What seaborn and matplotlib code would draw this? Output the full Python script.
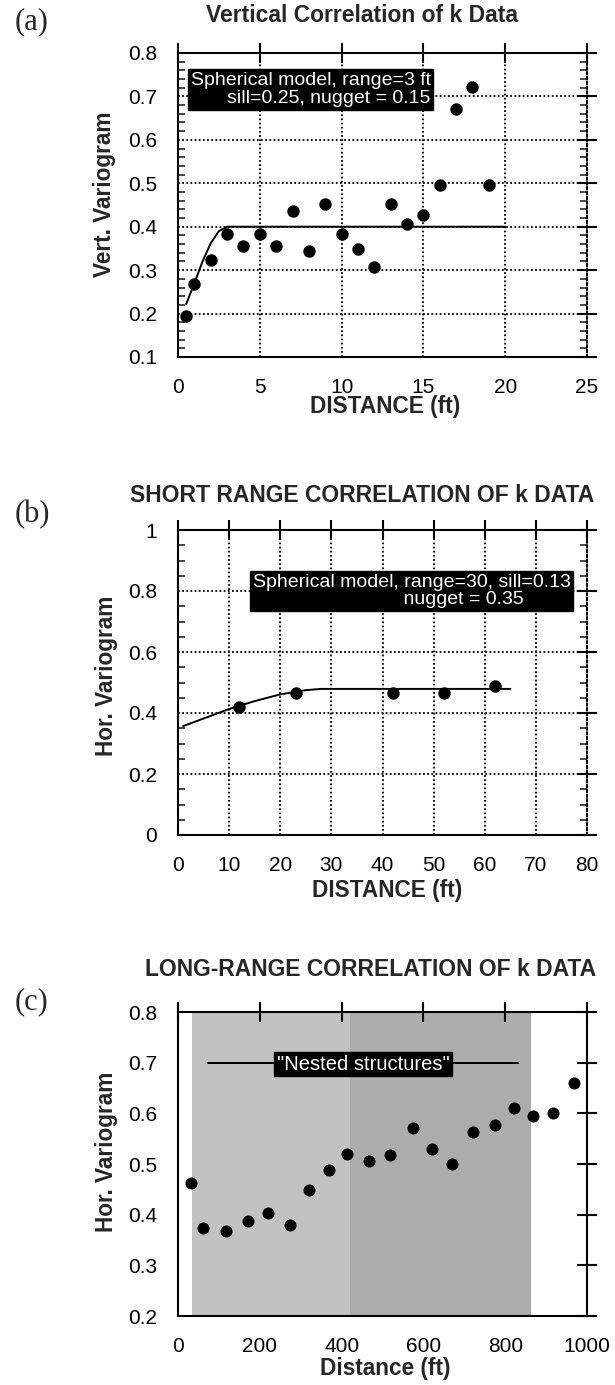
import matplotlib
matplotlib.use("Agg")
import matplotlib.pyplot as plt
import matplotlib.ticker as mticker
import seaborn as sns
import pandas as pd

# ---------------- data ----------------
# (a) vertical variogram
a_dist = [0.5, 1, 2, 3, 4, 5, 6, 7, 8, 9, 10, 11, 12, 13, 14, 15, 16, 17, 18, 19]
a_gamma = [0.195, 0.268, 0.324, 0.383, 0.356, 0.383, 0.356, 0.437, 0.345, 0.452,
           0.383, 0.349, 0.307, 0.452, 0.406, 0.428, 0.495, 0.670, 0.722, 0.497]
a_model_x = [0.5, 1, 1.5, 2, 2.5, 3, 20]
a_model_y = [0.222, 0.270, 0.320, 0.362, 0.390, 0.400, 0.400]

# (b) short-range horizontal variogram
b_dist = [12, 23, 42, 52, 62]
b_gamma = [0.420, 0.467, 0.467, 0.467, 0.490]
b_model_x = [1, 5, 10, 15, 20, 25, 28, 65]
b_model_y = [0.357, 0.382, 0.413, 0.439, 0.461, 0.475, 0.479, 0.479]

# (c) long-range horizontal variogram
c_dist = [31, 62, 118, 172, 220, 273, 321, 368, 414, 466,
          519, 574, 622, 670, 721, 775, 821, 868, 917, 969]
c_gamma = [0.462, 0.374, 0.368, 0.387, 0.404, 0.379, 0.448, 0.488, 0.520, 0.506,
           0.517, 0.571, 0.530, 0.500, 0.563, 0.576, 0.611, 0.594, 0.601, 0.659]
c_shade_light = [35, 420]
c_shade_dark = [420, 863]
c_nested_line = [74, 832]

titles = ["Vertical Correlation of k Data",
          "SHORT RANGE CORRELATION OF k DATA",
          "LONG-RANGE CORRELATION OF k DATA"]
xlabels = ["DISTANCE (ft)", "DISTANCE (ft)", "Distance (ft)"]
ylabels = ["Vert. Variogram", "Hor. Variogram", "Hor. Variogram"]
panel_tags = ["(a)", "(b)", "(c)"]

# ---------------- style ----------------
sns.set_style("white")
plt.rcParams["font.family"] = ["Liberation Sans", "DejaVu Sans"]
plt.rcParams["axes.linewidth"] = 1.5

W, H = 615, 1385
fig = plt.figure(figsize=(W / 100, H / 100), dpi=100)


def fx(px):
    return px / W


def fy(py):
    return 1 - py / H


def make_ax(top_px, bot_px):
    left, right = 178, 587
    return fig.add_axes([fx(left), fy(bot_px), (right - left) / W, (bot_px - top_px) / H])


TICK_FS = 15
LAB_FS = 16.3
TITLE_FS = 16.5
grid_kw = dict(color="black", linestyle=(0, (1, 1.3)), linewidth=1.3, zorder=1)


def style_ticks(ax, minor_y=None):
    ax.tick_params(axis="both", which="major", direction="inout", length=14, width=1.5,
                   labelsize=TICK_FS, top=True, right=True, pad=8, colors="black")
    if minor_y is not None:
        ax.yaxis.set_minor_locator(mticker.MultipleLocator(minor_y))
        ax.tick_params(axis="y", which="minor", direction="in", length=5, width=1.2,
                       left=True, right=True)
    ax.yaxis.set_major_formatter(mticker.FuncFormatter(lambda v, p: f"{v:g}"))
    ax.xaxis.set_major_formatter(mticker.FuncFormatter(lambda v, p: f"{v:g}"))
    for s in ax.spines.values():
        s.set_color("black")
        s.set_linewidth(1.5)


# ---------------- (a) ----------------
ax = make_ax(53, 357)
df_a = pd.DataFrame({"d": a_dist, "g": a_gamma})
dm_a = pd.DataFrame({"d": a_model_x, "g": a_model_y})
ax.set_xlim(0, 25)
ax.set_ylim(0.1, 0.8)
ax.set_xticks([0, 5, 10, 15, 20, 25])
ax.set_yticks([0.1, 0.2, 0.3, 0.4, 0.5, 0.6, 0.7, 0.8])
for xv in [5, 10, 15, 20]:
    ax.axvline(xv, **grid_kw)
for yv in [0.2, 0.3, 0.4, 0.5, 0.6, 0.7]:
    ax.axhline(yv, **grid_kw)
ax.spines["right"].set_linestyle((0, (1, 1.3)))
sns.lineplot(data=dm_a, x="d", y="g", ax=ax, color="black", linewidth=1.4, zorder=3)
sns.scatterplot(data=df_a, x="d", y="g", ax=ax, color="black", s=80, edgecolor="black",
                linewidth=0, zorder=4)
ax.text(8.1, 0.716, "Spherical model, range=3 ft\nsill=0.25, nugget = 0.15",
        ha="center", va="center", multialignment="right", color="white", fontsize=14,
        linespacing=1.05,
        bbox=dict(boxstyle="square,pad=0.15", facecolor="black", edgecolor="black"), zorder=5)
style_ticks(ax, minor_y=0.02)
ax.set_xlabel("")
ax.set_ylabel("")

# ---------------- (b) ----------------
ax = make_ax(530, 835)
df_b = pd.DataFrame({"d": b_dist, "g": b_gamma})
dm_b = pd.DataFrame({"d": b_model_x, "g": b_model_y})
ax.set_xlim(0, 80)
ax.set_ylim(0, 1)
ax.set_xticks(list(range(0, 81, 10)))
ax.set_yticks([0, 0.2, 0.4, 0.6, 0.8, 1])
for xv in range(10, 80, 10):
    ax.axvline(xv, **grid_kw)
for yv in [0.2, 0.4, 0.6, 0.8]:
    ax.axhline(yv, **grid_kw)
ax.spines["right"].set_linestyle((0, (1, 1.3)))
sns.lineplot(data=dm_b, x="d", y="g", ax=ax, color="black", linewidth=1.4, zorder=3)
sns.scatterplot(data=df_b, x="d", y="g", ax=ax, color="black", s=80, edgecolor="black",
                linewidth=0, zorder=4)
ax.text(45.7, 0.80, "Spherical model, range=30, sill=0.13\n                            nugget = 0.35",
        ha="center", va="center", multialignment="left", color="white", fontsize=14,
        linespacing=1.05,
        bbox=dict(boxstyle="square,pad=0.15", facecolor="black", edgecolor="black"), zorder=5)
style_ticks(ax, minor_y=0.05)
ax.set_xlabel("")
ax.set_ylabel("")

# ---------------- (c) ----------------
ax = make_ax(1012, 1316)
df_c = pd.DataFrame({"d": c_dist, "g": c_gamma})
ax.set_xlim(0, 1000)
ax.set_ylim(0.2, 0.8)
ax.set_xticks([0, 200, 400, 600, 800, 1000])
ax.set_yticks([0.2, 0.3, 0.4, 0.5, 0.6, 0.7, 0.8])
ax.axvspan(*c_shade_light, color="#c2c2c2", linewidth=0, zorder=0)
ax.axvspan(*c_shade_dark, color="#acacac", linewidth=0, zorder=0)
ax.plot(c_nested_line, [0.7, 0.7], color="black", linewidth=1.4, zorder=3)
ax.text(453, 0.697, "\"Nested structures\"", ha="center", va="center", color="white",
        fontsize=14.5,
        bbox=dict(boxstyle="square,pad=0.12", facecolor="black", edgecolor="black"), zorder=5)
sns.scatterplot(data=df_c, x="d", y="g", ax=ax, color="black", s=75, edgecolor="black",
                linewidth=0, zorder=4)
style_ticks(ax)
ax.set_xlabel("")
ax.set_ylabel("")

# ---------------- figure texts ----------------
title_pos = [(362, 16), (362, 495), (371, 970)]
xlabel_pos = [(385, 407), (387, 890), (385, 1368)]
ylabel_pos = [(104, 194), (106, 676), (107, 1152)]
tag_pos = [(32, 22), (32, 515), (32, 1002)]
for i in range(3):
    fig.text(fx(title_pos[i][0]), fy(title_pos[i][1]), titles[i], ha="center", va="center",
             fontsize=TITLE_FS, fontweight="bold")
    fig.text(fx(xlabel_pos[i][0]), fy(xlabel_pos[i][1]), xlabels[i], ha="center", va="center",
             fontsize=LAB_FS, fontweight="bold")
    fig.text(fx(ylabel_pos[i][0]), fy(ylabel_pos[i][1]), ylabels[i], ha="center", va="center",
             rotation=90, fontsize=LAB_FS, fontweight="bold")
    fig.text(fx(tag_pos[i][0]), fy(tag_pos[i][1]), panel_tags[i], ha="center", va="center",
             fontsize=22, family=["Liberation Serif", "DejaVu Serif"])

fig.savefig("out.png", dpi=100, facecolor="white")
